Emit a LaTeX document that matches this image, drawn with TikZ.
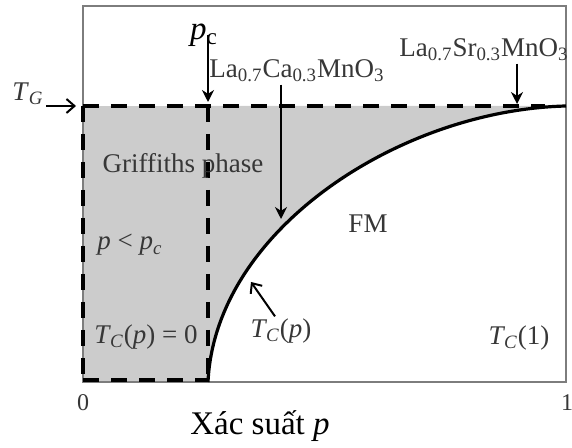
\documentclass[tikz,border=0pt]{standalone}
\usepackage{fontspec}
\setmainfont{Liberation Serif}
\usetikzlibrary{arrows.meta}
\definecolor{phaseGray}{RGB}{204,204,204}
\definecolor{frameGray}{RGB}{125,125,125}
\definecolor{labelInk}{RGB}{55,55,55}
\tikzset{
  frame/.style={draw=frameGray, line width=0.7pt},
  boundary/.style={black, line width=2pt, dash pattern=on 8pt off 6pt},
  tccurve/.style={black, line width=1.6pt},
  pointer/.style={-{Stealth[length=6pt, width=6pt]}, line width=0.9pt},
  barb/.style={-{Straight Barb[length=4pt, width=7pt]}, line width=1pt},
  phasetext/.style={font=\fontsize{13.5}{15}\selectfont, text=labelInk, inner sep=1pt},
  ticktext/.style={font=\fontsize{12}{14}\selectfont, text=labelInk, inner sep=1pt},
  axistext/.style={font=\fontsize{16.5}{19}\selectfont, inner sep=1pt}
}
\newcommand{\ivar}[1]{\textit{#1}}
\newcommand{\Tcrit}{\ivar{T}\textsubscript{\kern-0.5pt\ivar{C}}}

\begin{document}
\begin{tikzpicture}[x=0.5pt, y=-0.5pt]
  \useasboundingbox (0,0) rectangle (572,448);
  \coordinate (ll) at (83,382);
  \coordinate (ur) at (566,6);
  \coordinate (tgl) at (83,106);
  \coordinate (tgr) at (545,106);
  \coordinate (pctop) at (208,106);
  \coordinate (pcbot) at (208,382);

  \fill[phaseGray] (tgl) rectangle (pcbot);
  \fill[phaseGray] (pcbot) .. controls (215,230) and (400,110) .. (566,106) -- (pctop) -- cycle;
  \draw[frame] (ll) rectangle (ur);

  \draw[boundary] (tgl) -- (tgr);
  \draw[boundary] (tgl) -- (ll);
  \draw[boundary] (83,380) -- (208,380);
  \draw[boundary] (pctop) -- (pcbot);
  \draw[tccurve] (pcbot) .. controls (215,230) and (400,110) .. (566,106);

  \node[phasetext] (tg) at (28,94) {\ivar{T}\textsubscript{\ivar{G}}};
  \node[axistext] (pc) at (204,35) {\ivar{p}\textsubscript{c}};
  \node[phasetext] (lcmo) at (297,71) {La\textsubscript{0.7}Ca\textsubscript{0.3}MnO\textsubscript{3}};
  \node[phasetext] (lsmo) at (484,50) {La\textsubscript{0.7}Sr\textsubscript{0.3}MnO\textsubscript{3}};
  \node[phasetext] (griff) at (183,166) {Griffiths phase};
  \node[phasetext] (below) at (130,245) {\ivar{p} < \ivar{p}\textsubscript{\ivar{c}}};
  \node[phasetext] (tczero) at (146,337) {\Tcrit(\ivar{p}) = 0};
  \node[phasetext] (fm) at (368,224) {FM};
  \node[phasetext] (tcp) at (281,331) {\Tcrit(\ivar{p})};
  \node[phasetext] (tcone) at (519,338) {\Tcrit(1)};
  \node[ticktext] (zero) at (83,403) {0};
  \node[ticktext] (one) at (567,403) {1};
  \node[axistext] (xlab) at (260,426) {Xác suất \ivar{p}};

  \coordinate (tgto) at (76,106);
  \coordinate (pcto) at (208,102);
  \coordinate (lcmoto) at (281,219);
  \coordinate (lsmoto) at (517,104);
  \coordinate (tcpto) at (251,282);

  \draw[barb] (tg.east |- tgto) -- (tgto);
  \draw[pointer] (pc -| pcto) -- (pcto);
  \draw[pointer] (lcmo.south -| lcmoto) -- (lcmoto);
  \draw[pointer] (lsmo.south -| lsmoto) -- (lsmoto);
  \draw[barb] ([xshift=-3pt]tcp.north) -- (tcpto);
\end{tikzpicture}
\end{document}
